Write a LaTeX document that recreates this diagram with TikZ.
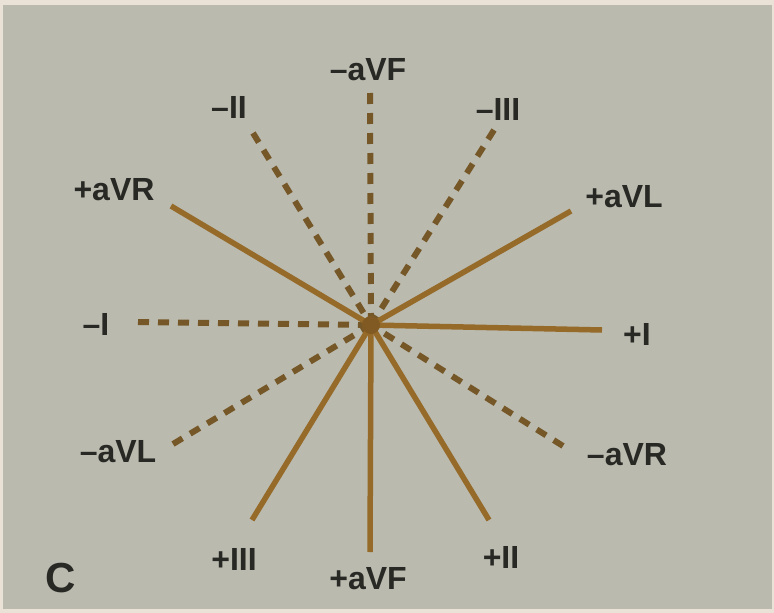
\documentclass[tikz,border=0pt]{standalone}
\usepackage{fontspec}
\setmainfont{Liberation Sans}
\definecolor{paper}{RGB}{186,186,175}
\definecolor{edge}{RGB}{234,226,215}
\definecolor{lead}{RGB}{150,106,40}
\definecolor{leaddark}{RGB}{118,88,40}
\definecolor{ink}{RGB}{40,40,36}
\tikzset{
  solidlead/.style={draw=lead,line width=5.5pt},
  dashlead/.style={draw=leaddark,line width=6pt,dash pattern=on 11pt off 9pt},
  lbl/.style={text=ink,font=\fontsize{32}{32}\selectfont\bfseries,inner sep=0pt,anchor=center}
}
\begin{document}
\begin{tikzpicture}[x=1pt,y=-1pt]
\useasboundingbox (0,0) rectangle (774,613);
\fill[edge] (0,0) rectangle (774,613);
\fill[paper] (3,5) rectangle (772,609);
% points
\coordinate (O) at (371,325);
\coordinate (pI) at (602,330);
\coordinate (paVR) at (171,206);
\coordinate (paVL) at (571,211);
\coordinate (pIII) at (252,520);
\coordinate (paVF) at (370,552);
\coordinate (pII) at (489,520);
\coordinate (mI) at (138,322);
\coordinate (maVF) at (370,93);
\coordinate (mII) at (253,133);
\coordinate (mIII) at (494,130);
\coordinate (maVL) at (173,444);
\coordinate (maVR) at (563,446);
% dashed negative axes
\draw[dashlead] (mI) -- (O);
\draw[dashlead] (maVF) -- (O);
\draw[dashlead] (mII) -- (O);
\draw[dashlead] (mIII) -- (O);
\draw[dashlead] (maVL) -- (O);
\draw[dashlead] (maVR) -- (O);
% solid positive axes
\draw[solidlead] (O) -- (pI);
\draw[solidlead] (O) -- (paVR);
\draw[solidlead] (O) -- (paVL);
\draw[solidlead] (O) -- (pIII);
\draw[solidlead] (O) -- (paVF);
\draw[solidlead] (O) -- (pII);
\fill[lead!85!black] (O) circle (9);
% labels
\node[lbl] (lmaVF) at (368,70) {–aVF};
\node[lbl] (lmII) at (229,107) {–II};
\node[lbl] (lmIII) at (498,109) {–III};
\node[lbl] (lpaVR) at (114,190) {+aVR};
\node[lbl] (lpaVL) at (624,197) {+aVL};
\node[lbl] (lmI) at (96,324) {–I};
\node[lbl] (lpI) at (637,334) {+I};
\node[lbl] (lmaVL) at (118,452) {–aVL};
\node[lbl] (lmaVR) at (627,455) {–aVR};
\node[lbl] (lpIII) at (234,559) {+III};
\node[lbl] (lpaVF) at (368,579) {+aVF};
\node[lbl] (lpII) at (501,557) {+II};
\node[text=ink,font=\fontsize{42}{42}\selectfont\bfseries,inner sep=0pt] (lC) at (61,578) {C};
\end{tikzpicture}
\end{document}
